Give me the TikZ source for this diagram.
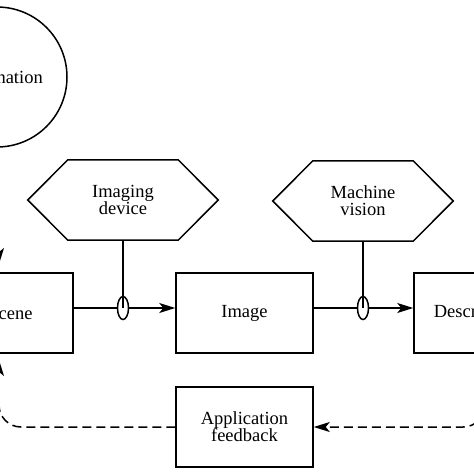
\documentclass[tikz,border=0pt]{standalone}
\usepackage{fontspec}
\setmainfont{Liberation Serif}
\usetikzlibrary{arrows.meta,shapes.geometric,calc}
\begin{document}
\begin{tikzpicture}[x=1pt,y=-1pt,
  every node/.style={font=\fontsize{18.5}{17}\selectfont, align=center},
  boxnode/.style={draw, line width=1.5pt, minimum width=137pt, minimum height=80pt, inner sep=0pt},
  hexbase/.style={minimum height=80pt, inner sep=0pt},
  conn/.style={line width=1.5pt},
  tipstyle/.style={-{Stealth[length=16pt,width=10pt,inset=4pt]}},
  arr/.style={conn, tipstyle},
  dashconn/.style={conn, dash pattern=on 9pt off 5pt},
  loopring/.style={ellipse, draw, line width=1.5pt, minimum width=11pt, minimum height=23pt, inner sep=0pt},
]
\useasboundingbox (0,0) rectangle (474,474);
\fill[white] (0,0) rectangle (474,474);
\clip (0,0) rectangle (474,474);

\node[circle, draw, line width=1.5pt, minimum size=140pt, inner sep=0pt] (illum) at (-3,77) {Illumination};
\node[boxnode, minimum width=125pt] (scene) at (10.5,313) {Scene};
\node[boxnode] (image) at (244.5,313) {Image};
\node[boxnode, minimum width=126pt] (desc) at (477,313) {Description};
\node[boxnode] (fb) at (244.5,427) {Application\\feedback};
\node[hexbase, minimum width=190pt] (imgdev) at (123,200) {Imaging\\device};
\node[hexbase, minimum width=180pt] (mvis) at (363,201) {Machine\\vision};

\foreach \h in {imgdev,mvis}
  \draw[conn] (\h.west) -- ($(\h.north west)+(40,0)$) -- ($(\h.north east)+(-40,0)$) -- (\h.east) -- ($(\h.south east)+(-40,0)$) -- ($(\h.south west)+(40,0)$) -- cycle;

\coordinate (lineY) at (0,308);
\node[loopring] (ring1) at (imgdev.south |- lineY) {};
\node[loopring] (ring2) at (mvis.south |- lineY) {};

\draw[conn] (imgdev.south) -- (ring1.center);
\draw[conn] (scene.east |- ring1) -- (ring1.west);
\draw[arr] (ring1.east) -- (image.west |- ring1);

\draw[conn] (mvis.south) -- (ring2.center);
\draw[conn] (image.east |- ring2) -- (ring2.west);
\draw[arr] (ring2.east) -- (desc.west |- ring2);

\coordinate (sceneTopIn) at (-1,264);
\draw[arr] (illum.south -| sceneTopIn) -- (sceneTopIn);

\coordinate (sceneBotIn) at (-1,360);
\draw[dashconn, tipstyle, rounded corners=22pt] (fb.west) -| (sceneBotIn);

\coordinate (descOut) at ($(desc.south)+(8,0)$);
\draw[dashconn, tipstyle, rounded corners=22pt] (descOut) |- (fb.east);
\end{tikzpicture}
\end{document}
